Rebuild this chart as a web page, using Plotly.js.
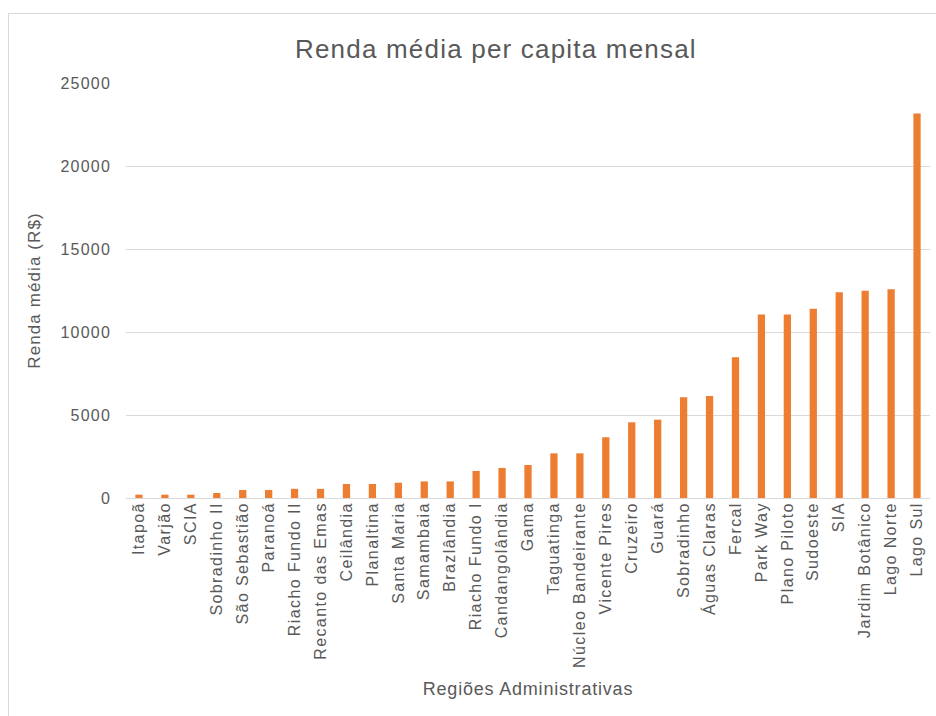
<!DOCTYPE html>
<html>
<head>
<meta charset="utf-8">
<script src="https://cdn.plot.ly/plotly-3.0.1.min.js"></script>
<style>
  html, body { margin: 0; padding: 0; background: #ffffff; overflow: hidden; }
  #frame { position: absolute; left: 8px; top: 13px; width: 940px; height: 720px; border: 1px solid #d9d9d9; }
  #chart { width: 940px; height: 720px; }
  #chart .xtick text { letter-spacing: 1.4px; }
  #chart .ytick text { letter-spacing: 1.2px; }
  #chart .gtitle { letter-spacing: 1.2px; }
  #chart .xtitle { letter-spacing: 0.8px; }
  #chart .ytitle { letter-spacing: 1.1px; }
</style>
</head>
<body>
<div id="frame"><div id="chart"></div></div>
<script>
const regioes = ["Itapoã", "Varjão", "SCIA", "Sobradinho II", "São Sebastião", "Paranoá",
  "Riacho Fundo II", "Recanto das Emas", "Ceilândia", "Planaltina", "Santa Maria",
  "Samambaia", "Brazlândia", "Riacho Fundo I", "Candangolândia", "Gama", "Taguatinga",
  "Núcleo Bandeirante", "Vicente Pires", "Cruzeiro", "Guará", "Sobradinho",
  "Águas Claras", "Fercal", "Park Way", "Plano Piloto", "Sudoeste", "SIA",
  "Jardim Botânico", "Lago Norte", "Lago Sul"];
const rendaMedia = [200, 200, 200, 300, 480, 480, 550, 550, 845, 845, 920,
  1000, 1000, 1630, 1810, 1990, 2690, 2690, 3660, 4560, 4720, 6070,
  6150, 8480, 11050, 11050, 11400, 12400, 12490, 12570, 23160];
const yTicks = [0, 5000, 10000, 15000, 20000, 25000];

const textColor = "#595959";
const font = "Arial, 'Liberation Sans', sans-serif";

Plotly.newPlot("chart", [{
  type: "bar",
  x: regioes,
  y: rendaMedia,
  marker: { color: "#ED7D31" },
  hoverinfo: "x+y"
}], {
  width: 940,
  height: 720,
  paper_bgcolor: "#ffffff",
  plot_bgcolor: "#ffffff",
  font: { family: font, color: textColor, size: 16 },
  title: { text: "Renda média per capita mensal", font: { family: font, size: 26, color: textColor }, x: 0.518, xanchor: "center", y: 0.952, yanchor: "middle" },
  margin: { l: 117, r: 19, t: 69, b: 236 },
  bargap: 0.72,
  showlegend: false,
  xaxis: {
    type: "category",
    tickangle: -90,
    tickfont: { family: font, size: 16, color: textColor },
    showgrid: false,
    showline: false,
    ticks: "",
    title: { text: "Regiões Administrativas", font: { family: font, size: 18, color: textColor }, standoff: 40 },
    automargin: false
  },
  yaxis: {
    range: [0, 25000],
    tickvals: yTicks,
    ticktext: yTicks.map(String),
    tickfont: { family: font, size: 16, color: textColor },
    showgrid: true,
    gridcolor: "#d9d9d9",
    gridwidth: 1,
    zeroline: true,
    zerolinecolor: "#d9d9d9",
    zerolinewidth: 1,
    showline: false,
    ticks: "",
    ticklabelstandoff: 14,
    title: { text: "Renda média (R$)", font: { family: font, size: 17, color: textColor }, standoff: 21 },
    automargin: false
  }
}, { displayModeBar: false, staticPlot: false });
</script>
</body>
</html>
